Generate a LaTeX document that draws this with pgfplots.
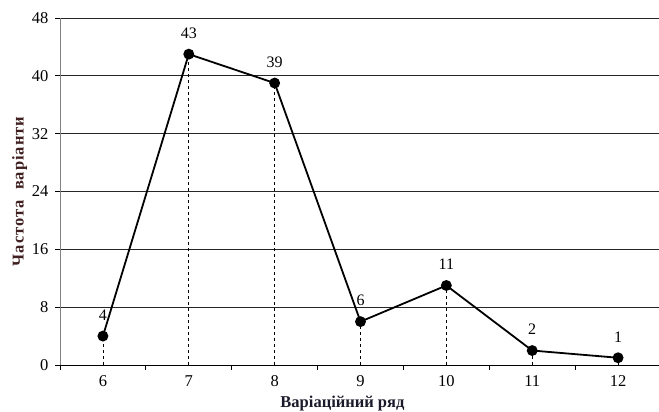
\documentclass[border=0pt]{standalone}
\usepackage{pgfplots}
\pgfplotsset{compat=1.18}
\usepackage{fontspec}
\setmainfont{Liberation Serif}
\definecolor{ylab}{HTML}{3F1F1F}
\definecolor{xlab}{HTML}{1A1A2A}
\pgfplotstableread{
x y
6 4
7 43
8 39
9 6
10 11
11 2
12 1
}\datatab
\begin{document}
\begin{tikzpicture}
\useasboundingbox (0pt,0pt) rectangle (659pt,412pt);
\begin{axis}[
  at={(60pt,47pt)}, anchor=south west,
  scale only axis, width=601pt, height=347pt,
  xmin=5.5, xmax=12.5, ymin=0, ymax=48,
  axis x line*=bottom, axis y line*=left,
  x axis line style={black, line width=0.9pt, -},
  y axis line style={gray, line width=0.9pt, -},
  xtick={5.5,6.5,...,12.5},
  x tick label as interval,
  xticklabels={6,7,8,9,10,11,12},
  ytick={0,8,...,48},
  tick align=outside,
  major tick length=5pt,
  tick style={black, line width=0.8pt},
  ymajorgrids,
  grid style={black!85, line width=0.8pt},
  /pgf/number format/assume math mode=true,
  ticklabel style={font=\fontsize{16.5}{19}\selectfont},
  yticklabel style={xshift=-3pt},
  xticklabel style={yshift=-2pt},
  xlabel={Варіаційний ряд},
  ylabel={Частота \ варіанти},
  x label style={at={(axis description cs:0.47,-0.11)}, anchor=center, font=\bfseries\fontsize{16.5}{19}\selectfont, text=xlab},
  y label style={at={(axis description cs:-0.067,0.5)}, anchor=center, font=\bfseries\fontsize{16.5}{19}\selectfont\addfontfeature{LetterSpace=6}, text=ylab},
  clip=false,
]
\addplot[ycomb, black, line width=0.7pt, dash pattern=on 3pt off 3pt, no markers] table[x=x,y=y] {\datatab};
\addplot[black, line width=1.8pt, mark=*, mark size=4.5pt,
  nodes near coords,
  nodes near coords style={anchor=center, yshift=21pt, font=\fontsize{16}{19}\selectfont, text=black},
  /pgf/number format/assume math mode=true] table[x=x,y=y] {\datatab};
\end{axis}
\end{tikzpicture}
\end{document}
